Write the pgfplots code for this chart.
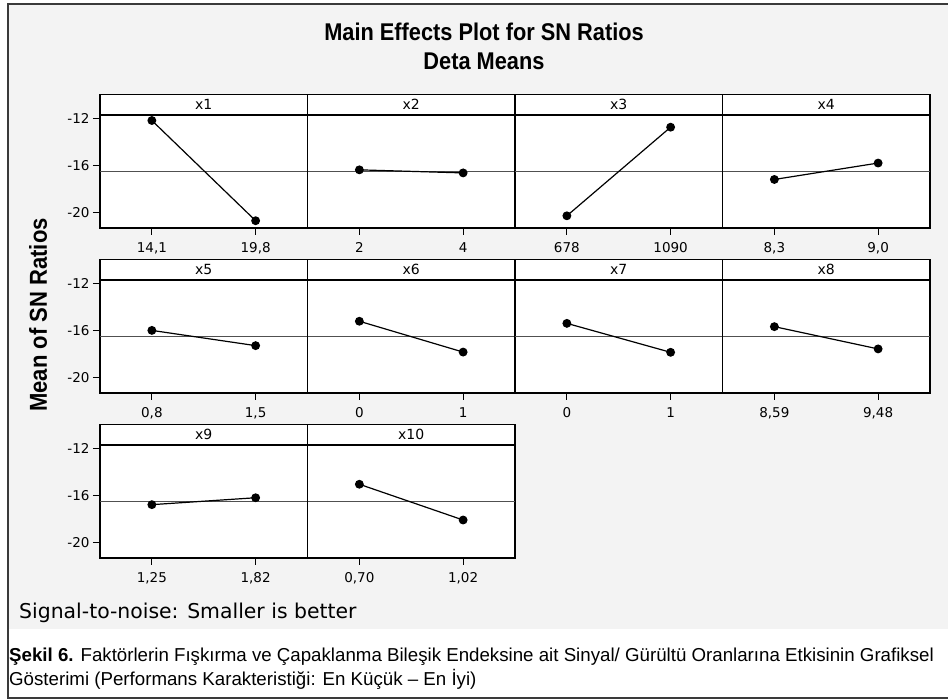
\documentclass[border=0pt]{standalone}
\usepackage{pgfplots}
\pgfplotsset{compat=1.18}
\usepackage{fontspec}
\setmainfont{Liberation Sans}
\newfontfamily\dejavu{DejaVu Sans}
\newfontfamily\narrowbold{Liberation Sans Bold}[FakeStretch=0.9]
\definecolor{bg}{HTML}{F3F3F3}
\definecolor{meanline}{HTML}{505050}
\definecolor{framec}{HTML}{3A3A3A}

\pgfplotsset{
  every axis title/.style={at={(0.5,1)}, anchor=south, draw=black, line width=1.3pt,
    fill=white, minimum width=207.5pt, minimum height=20pt, inner sep=0pt,
    font=\dejavu\fontsize{14}{16}\selectfont},
  panel/.style={
    scale only axis, width=207.5pt, height=113pt,
    xmin=-0.5, xmax=1.5, ymin=-21.34, ymax=-11.7,
    xtick={0,1}, ytick={-20,-16,-12}, yticklabels={-20,-16,-12},
    tick align=outside, major tick length=7pt,
    xtick pos=bottom, ytick pos=left,
    axis line style={line width=1.3pt, black},
    tick style={line width=1.1pt, black},
    every tick label/.append style={font=\dejavu\fontsize{13.5}{15}\selectfont},
    xticklabel style={yshift=-4pt},
    axis background/.style={fill=white},
    anchor=south west,
  },
  noy/.style={ytick=\empty},
  meanl/.style={meanline, line width=1.3pt, forget plot},
  eff/.style={black, line width=1.2pt, mark=*, mark size=3.8pt, mark options={fill=black}},
}

\begin{document}
\begin{tikzpicture}
\useasboundingbox (0pt,0pt) rectangle (948pt,700pt);
\fill[white] (0pt,0pt) rectangle (948pt,700pt);
\fill[bg] (8pt,71pt) rectangle (948pt,696pt);
\draw[framec, line width=1.8pt] (8pt,2pt) rectangle (952pt,696pt);

\node[anchor=base, font=\narrowbold\fontsize{24.2}{28}\selectfont, inner sep=0pt] at (484pt,659pt) {Main Effects Plot for SN Ratios};
\node[anchor=base, font=\narrowbold\fontsize{24.2}{28}\selectfont, inner sep=0pt] at (484pt,630pt) {Deta Means};

\node[rotate=90, font=\narrowbold\fontsize{24.5}{28}\selectfont, inner sep=0pt] at (38pt,385pt) {Mean of SN Ratios};

% Row 1
\begin{axis}[panel, at={(100pt,472pt)}, title={x1}, xticklabels={{14,1},{19,8}}]
\addplot[meanl] coordinates {(-0.5,-16.53) (1.5,-16.53)};
\addplot[eff] coordinates {(0,-12.17) (1,-20.72)};
\end{axis}
\begin{axis}[panel, noy, at={(307.5pt,472pt)}, title={x2}, xticklabels={2,4}]
\addplot[meanl] coordinates {(-0.5,-16.53) (1.5,-16.53)};
\addplot[eff] coordinates {(0,-16.38) (1,-16.64)};
\end{axis}
\begin{axis}[panel, noy, at={(515pt,472pt)}, title={x3}, xticklabels={678,1090}]
\addplot[meanl] coordinates {(-0.5,-16.53) (1.5,-16.53)};
\addplot[eff] coordinates {(0,-20.30) (1,-12.74)};
\end{axis}
\begin{axis}[panel, noy, at={(722.5pt,472pt)}, title={x4}, xticklabels={{8,3},{9,0}}]
\addplot[meanl] coordinates {(-0.5,-16.53) (1.5,-16.53)};
\addplot[eff] coordinates {(0,-17.20) (1,-15.80)};
\end{axis}

% Row 2
\begin{axis}[panel, at={(100pt,307pt)}, title={x5}, xticklabels={{0,8},{1,5}}]
\addplot[meanl] coordinates {(-0.5,-16.53) (1.5,-16.53)};
\addplot[eff] coordinates {(0,-16.00) (1,-17.30)};
\end{axis}
\begin{axis}[panel, noy, at={(307.5pt,307pt)}, title={x6}, xticklabels={0,1}]
\addplot[meanl] coordinates {(-0.5,-16.53) (1.5,-16.53)};
\addplot[eff] coordinates {(0,-15.22) (1,-17.85)};
\end{axis}
\begin{axis}[panel, noy, at={(515pt,307pt)}, title={x7}, xticklabels={0,1}]
\addplot[meanl] coordinates {(-0.5,-16.53) (1.5,-16.53)};
\addplot[eff] coordinates {(0,-15.40) (1,-17.87)};
\end{axis}
\begin{axis}[panel, noy, at={(722.5pt,307pt)}, title={x8}, xticklabels={{8,59},{9,48}}]
\addplot[meanl] coordinates {(-0.5,-16.53) (1.5,-16.53)};
\addplot[eff] coordinates {(0,-15.68) (1,-17.58)};
\end{axis}

% Row 3
\begin{axis}[panel, at={(100pt,142pt)}, title={x9}, xticklabels={{1,25},{1,82}}]
\addplot[meanl] coordinates {(-0.5,-16.53) (1.5,-16.53)};
\addplot[eff] coordinates {(0,-16.79) (1,-16.20)};
\end{axis}
\begin{axis}[panel, noy, at={(307.5pt,142pt)}, title={x10}, xticklabels={{0,70},{1,02}}]
\addplot[meanl] coordinates {(-0.5,-16.53) (1.5,-16.53)};
\addplot[eff] coordinates {(0,-15.05) (1,-18.10)};
\end{axis}

\node[anchor=base west, font=\dejavu\fontsize{20.4}{24}\selectfont, inner sep=0pt] at (19pt,81pt) {Signal-to-noise: Smaller is better};

\node[anchor=base west, font=\fontsize{18.7}{22}\selectfont, inner sep=0pt] at (9pt,38pt) {\textbf{Şekil 6.} Faktörlerin Fışkırma ve Çapaklanma Bileşik Endeksine ait Sinyal/ Gürültü Oranlarına Etkisinin Grafiksel};
\node[anchor=base west, font=\fontsize{18.7}{22}\selectfont, inner sep=0pt] at (9pt,14pt) {Gösterimi (Performans Karakteristiği: En Küçük – En İyi)};
\end{tikzpicture}
\end{document}
